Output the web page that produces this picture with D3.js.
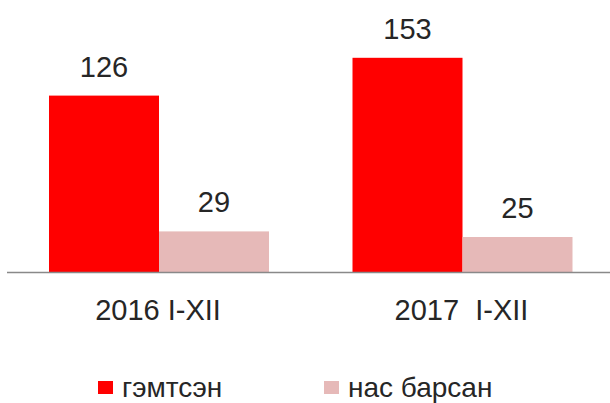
<!DOCTYPE html>
<html>
<head>
<meta charset="utf-8">
<style>
body { margin: 0; background: #fff; }
svg { display: block; }
text { font-family: Arial, "Liberation Sans", sans-serif; fill: #262626; }
</style>
</head>
<body>
<svg id="chart" width="610" height="403"></svg>
<script src="https://cdnjs.cloudflare.com/ajax/libs/d3/7.8.5/d3.min.js"></script>
<script>
const categories = ["2016 I-XII", "2017  I-XII"];
const series = ["гэмтсэн", "нас барсан"];
const injured = [126, 153];
const died = [29, 25];
const colors = ["#FF0000", "#E6B9B8"];

const rows = categories.map((c, i) => ({ cat: c, vals: [injured[i], died[i]] }));

const svg = d3.select("#chart");
const baseY = 272;

const x0 = d3.scaleBand().domain(categories).range([7, 614]).padding(0);
const x1 = d3.scaleBand().domain(series).range([42, 262]).padding(0);
const y = d3.scaleLinear().domain([0, 180]).range([baseY, 20]);

const groups = svg.append("g").selectAll("g")
  .data(rows)
  .enter().append("g")
  .attr("transform", d => `translate(${x0(d.cat)},0)`);

groups.selectAll("rect")
  .data(d => d.vals.map((v, i) => ({ key: series[i], v: v, i: i })))
  .enter().append("rect")
  .attr("x", d => x1(d.key))
  .attr("width", x1.bandwidth())
  .attr("y", d => y(d.v))
  .attr("height", d => baseY - y(d.v))
  .attr("fill", d => colors[d.i]);

groups.selectAll("text.val")
  .data(d => d.vals.map((v, i) => ({ key: series[i], v: v })))
  .enter().append("text")
  .attr("class", "val")
  .attr("x", d => x1(d.key) + x1.bandwidth() / 2)
  .attr("y", d => y(d.v) - 19)
  .attr("text-anchor", "middle")
  .style("font-size", "29px")
  .text(d => d.v);

// axis line
svg.append("line")
  .attr("x1", 7).attr("x2", 610)
  .attr("y1", baseY + 0.5).attr("y2", baseY + 0.5)
  .attr("stroke", "#898989")
  .attr("stroke-width", 1.5);

svg.append("g").selectAll("text")
  .data(categories)
  .enter().append("text")
  .attr("x", d => x0(d) + 151)
  .attr("y", 320)
  .attr("text-anchor", "middle")
  .style("font-size", "29px")
  .style("white-space", "pre")
  .attr("xml:space", "preserve")
  .text(d => d);

// legend
const legendX = [98, 324];
const legend = svg.append("g").selectAll("g")
  .data(series)
  .enter().append("g")
  .attr("transform", (d, i) => `translate(${legendX[i]},0)`);

legend.append("rect")
  .attr("x", 0).attr("y", 381)
  .attr("width", 15).attr("height", 13)
  .attr("fill", (d, i) => colors[i]);

legend.append("text")
  .attr("x", 24)
  .attr("y", 397)
  .style("font-size", "28px")
  .text(d => d);
</script>
</body>
</html>
